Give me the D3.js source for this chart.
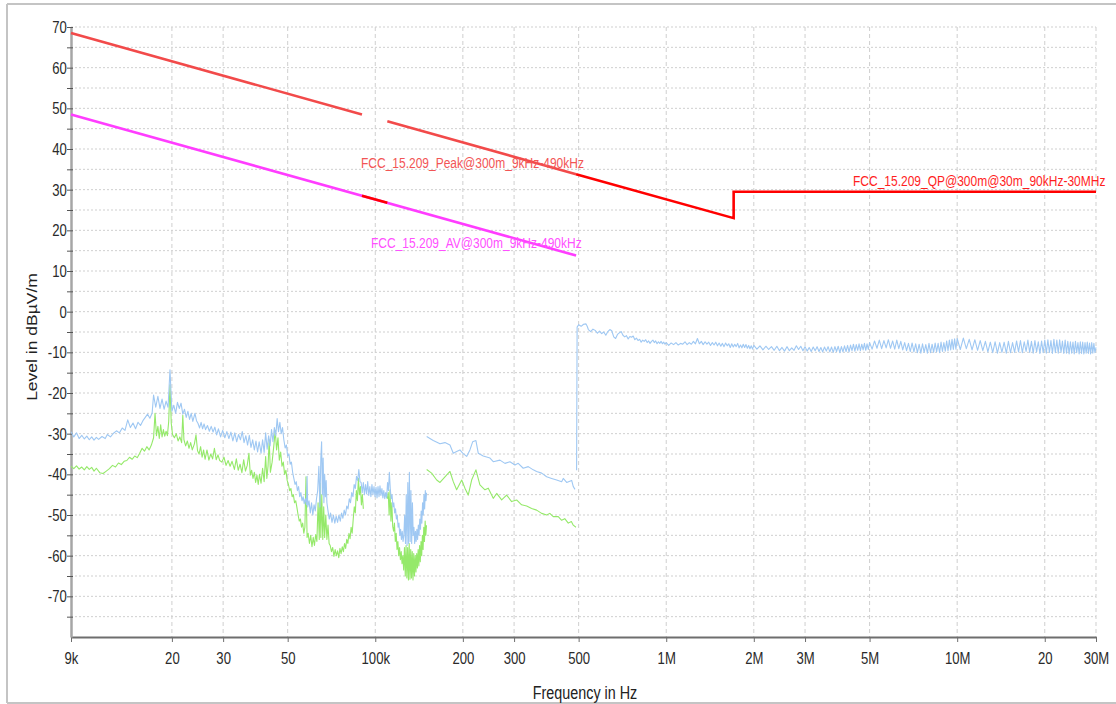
<!DOCTYPE html>
<html>
<head>
<meta charset="utf-8">
<script src="https://cdn.jsdelivr.net/npm/d3@7"></script>
<style>
  html, body { margin: 0; padding: 0; background: #fff; }
  svg { display: block; font-family: Arial, "Liberation Sans", sans-serif; }
</style>
</head>
<body>
<svg id="chart" width="1116" height="704"></svg>
<script>
// ---- Axis ticks ----
const xTickValues = [9e3, 2e4, 3e4, 5e4, 1e5, 2e5, 3e5, 5e5, 1e6, 2e6, 3e6, 5e6, 1e7, 2e7, 3e7];
const xTickLabels = ["9k", "20", "30", "50", "100k", "200", "300", "500", "1M", "2M", "3M", "5M", "10M", "20", "30M"];
const yTickValues = [-75, -70, -65, -60, -55, -50, -45, -40, -35, -30, -25, -20, -15, -10, -5, 0, 5, 10, 15, 20, 25, 30, 35, 40, 45, 50, 55, 60, 65, 70];
const yLabelledTicks = [-70, -60, -50, -40, -30, -20, -10, 0, 10, 20, 30, 40, 50, 60, 70];

// ---- FCC 15.209 limit lines (frequency in kHz, level in dBµV/m) ----
const peakLimitA = [[9, 68.5], [90, 48.5]];
const peakLimitB = [[110, 46.8], [490, 33.8]];
const avLimit = [[9, 48.5], [490, 13.8]];
const qpLimitA = [[90, 28.5], [110, 26.8]];
const qpLimitB = [[490, 33.8], [1705, 23.0], [1705, 29.5], [30000, 29.5]];

// ---- Measured traces ----
// Peak detector, 9 kHz – 150 kHz (kHz, dBµV/m)
const peakScanLF = [[9.0,-29.5],[9.2,-30.8],[9.4,-29.8],[9.6,-31.2],[9.8,-30.4],[10.0,-31.3],[10.2,-30.6],[10.4,-31.5],[10.6,-30.8],[10.8,-31.6],[11.0,-30.9],[11.2,-31.4],[11.5,-30.7],[11.8,-31.2],[12.0,-30.2],[12.3,-30.8],[12.6,-29.9],[12.9,-29.3],[13.2,-29.8],[13.5,-28.6],[13.8,-29.2],[14.1,-26.6],[14.4,-28.5],[14.7,-27.4],[15.0,-28.8],[15.3,-27.2],[15.6,-28.0],[15.9,-26.8],[16.2,-26.0],[16.5,-25.2],[16.8,-26.2],[17.1,-25.0],[17.3,-20.5],[17.6,-23.5],[17.9,-20.8],[18.2,-23.8],[18.5,-21.5],[18.8,-24.0],[19.1,-22.0],[19.4,-23.5],[19.7,-14.3],[20.0,-24.5],[20.3,-23.0],[20.6,-25.0],[20.9,-22.3],[21.2,-23.8],[21.5,-22.5],[21.8,-25.2],[22.1,-24.0],[22.4,-26.0],[22.7,-24.5],[23.0,-26.5],[23.3,-25.0],[23.6,-27.0],[24.0,-25.0],[24.3,-26.8],[24.6,-27.5],[24.9,-28.6],[25.2,-27.2],[25.5,-28.8],[25.8,-27.6],[26.1,-29.0],[26.5,-28.0],[26.9,-29.4],[27.3,-28.2],[27.7,-29.6],[28.1,-28.4],[28.5,-30.3],[28.9,-28.8],[29.4,-30.8],[29.9,-29.2],[30.4,-31.0],[30.9,-29.5],[31.4,-31.2],[31.9,-29.6],[32.4,-31.8],[32.9,-29.8],[33.4,-32.0],[33.9,-30.2],[34.4,-31.5],[34.9,-29.5],[35.4,-32.2],[35.9,-30.5],[36.4,-32.8],[36.9,-30.4],[37.4,-33.4],[37.9,-31.5],[38.4,-34.0],[38.9,-31.8],[39.4,-34.5],[39.9,-32.0],[40.5,-34.8],[41.0,-31.5],[41.5,-34.6],[42.0,-29.8],[42.5,-33.8],[43.0,-30.5],[43.5,-33.0],[44.0,-29.0],[44.5,-32.0],[45.0,-28.5],[45.5,-30.5],[46.0,-26.3],[46.5,-29.5],[47.0,-27.2],[47.5,-30.0],[48.0,-28.5],[48.5,-31.5],[49.0,-33.5],[49.5,-32.8],[50.0,-35.5],[50.5,-35.0],[51.0,-37.5],[51.5,-37.0],[52.0,-39.5],[52.5,-41.0],[53.0,-42.5],[53.5,-41.8],[54.0,-44.0],[54.5,-43.0],[55.0,-45.5],[55.5,-44.5],[56.0,-46.5],[56.5,-45.5],[57.0,-47.2],[57.5,-46.0],[58.0,-47.5],[58.3,-40.5],[58.6,-48.0],[59.2,-46.5],[59.8,-49.5],[60.4,-47.0],[61.0,-50.0],[61.6,-47.5],[62.2,-49.0],[62.8,-46.0],[63.4,-44.0],[64.0,-38.0],[64.5,-48.0],[65.0,-36.0],[65.4,-32.0],[65.8,-45.0],[66.2,-36.0],[66.6,-47.0],[67.0,-40.0],[67.4,-45.5],[67.8,-41.5],[68.2,-47.0],[68.8,-49.0],[69.5,-51.0],[70.2,-49.5],[71.0,-51.8],[71.8,-50.0],[72.6,-52.0],[73.4,-50.3],[74.2,-51.8],[75.0,-50.0],[75.8,-51.5],[76.6,-49.5],[77.4,-50.8],[78.2,-48.8],[79.0,-50.0],[79.8,-47.8],[80.6,-48.5],[81.4,-46.0],[82.2,-47.0],[83.0,-44.5],[83.8,-45.5],[84.6,-42.5],[85.4,-43.5],[86.2,-40.5],[87.0,-41.5],[87.8,-38.8],[88.6,-41.8],[89.4,-42.0],[90.2,-44.5],[91.0,-42.0],[91.8,-45.0],[92.6,-42.5],[93.4,-44.8],[94.2,-41.8],[95.0,-45.2],[95.8,-43.0],[96.6,-45.5],[97.4,-42.5],[98.2,-45.0],[99.0,-43.0],[99.8,-45.5],[100.6,-43.2],[101.4,-45.8],[102.2,-43.0],[103.0,-45.5],[103.8,-42.8],[104.6,-45.2],[105.4,-43.5],[106.2,-45.8],[107.0,-44.0],[107.8,-46.0],[108.6,-44.5],[109.4,-45.8],[110.2,-42.0],[111.0,-44.0],[111.8,-39.5],[112.6,-43.5],[113.4,-46.0],[114.2,-45.0],[115.0,-48.0],[115.8,-47.0],[116.6,-49.5],[117.4,-48.5],[118.2,-51.0],[119.0,-50.0],[119.8,-53.0],[120.6,-52.0],[121.4,-55.0],[122.2,-53.5],[123.0,-56.0],[123.8,-54.0],[124.6,-56.5],[125.4,-55.0],[126.2,-50.0],[127.0,-57.0],[127.8,-45.0],[128.6,-57.5],[129.4,-42.0],[130.2,-57.0],[131.0,-39.5],[131.8,-56.5],[132.6,-44.0],[133.4,-57.0],[134.2,-47.0],[135.0,-55.0],[135.8,-53.0],[136.6,-57.0],[137.4,-54.0],[138.2,-56.5],[139.0,-53.5],[139.8,-56.0],[140.6,-52.5],[141.4,-55.0],[142.2,-51.0],[143.0,-53.5],[143.8,-49.0],[144.6,-52.0],[145.4,-47.0],[146.2,-50.0],[147.0,-45.0],[147.8,-48.5],[148.6,-44.0],[149.4,-46.5],[150.0,-44.5]];

// Peak detector, 150 kHz – 490 kHz (kHz, dBµV/m)
const peakScanMF = [[150.2,-30.7],[158.2,-31.7],[166.9,-32.5],[173.6,-32.2],[180.6,-32.8],[185.4,-34.8],[190.4,-34.4],[195.4,-34.0],[199.7,-34.8],[206.1,-35.6],[211.5,-34.0],[216.1,-32.0],[221.8,-31.7],[225.9,-34.8],[235.0,-35.5],[247.9,-36.0],[254.4,-36.9],[268.2,-36.5],[279.1,-37.3],[290.3,-36.9],[302.0,-37.7],[310.0,-37.3],[322.5,-38.5],[335.6,-38.1],[349.1,-38.9],[358.6,-39.3],[373.1,-39.7],[388.2,-40.6],[403.8,-41.0],[420.2,-41.4],[437.1,-41.8],[442.7,-41.0],[454.8,-42.0],[473.2,-41.5],[479.2,-43.0],[485.7,-43.7]];

// Peak detector, 490 kHz – 30 MHz (MHz, dBµV/m)
const peakScanHF = [[0.492,-39.0],[0.494,-3.8],[0.50,-3.2],[0.51,-3.6],[0.52,-3.1],[0.53,-3.0],[0.535,-3.6],[0.54,-4.4],[0.55,-4.9],[0.56,-4.3],[0.57,-4.6],[0.58,-5.3],[0.59,-4.8],[0.60,-5.4],[0.61,-5.0],[0.62,-5.8],[0.63,-4.9],[0.64,-4.4],[0.65,-4.7],[0.66,-6.2],[0.67,-6.6],[0.68,-5.6],[0.69,-5.2],[0.70,-4.9],[0.71,-5.8],[0.72,-6.2],[0.73,-5.9],[0.74,-6.7],[0.75,-6.1],[0.76,-6.3],[0.77,-6.0],[0.78,-6.9],[0.79,-6.5],[0.80,-7.1],[0.81,-6.8],[0.82,-7.5],[0.83,-7.0],[0.84,-7.3],[0.85,-6.9],[0.86,-7.6],[0.87,-7.2],[0.88,-7.8],[0.89,-7.3],[0.90,-7.0],[0.91,-7.6],[0.92,-7.2],[0.93,-7.9],[0.94,-7.4],[0.95,-7.8],[0.96,-7.3],[0.97,-7.9],[0.98,-7.5],[0.99,-8.0],[1.00,-7.6],[1.02,-8.3],[1.04,-7.7],[1.06,-8.1],[1.08,-7.6],[1.10,-8.2],[1.12,-7.8],[1.14,-8.0],[1.16,-7.4],[1.18,-8.1],[1.20,-7.6],[1.22,-8.0],[1.24,-7.3],[1.26,-7.9],[1.28,-6.6],[1.30,-7.9],[1.32,-7.3],[1.34,-8.1],[1.36,-7.4],[1.38,-8.0],[1.40,-7.5],[1.42,-8.3],[1.44,-7.6],[1.46,-8.2],[1.48,-7.5],[1.50,-8.4],[1.52,-7.7],[1.54,-8.5],[1.56,-7.8],[1.58,-8.6],[1.60,-7.7],[1.62,-8.4],[1.64,-7.9],[1.66,-8.8],[1.68,-7.9],[1.70,-8.7],[1.72,-8.0],[1.74,-8.6],[1.76,-7.8],[1.78,-8.9],[1.80,-8.2],[1.82,-8.9],[1.84,-8.0],[1.86,-8.8],[1.88,-8.1],[1.90,-9.0],[1.92,-8.3],[1.94,-9.1],[1.96,-8.4],[1.98,-9.2],[2.00,-8.3],[2.05,-9.2],[2.10,-8.4],[2.15,-9.4],[2.20,-8.5],[2.25,-9.3],[2.30,-8.6],[2.35,-9.5],[2.40,-8.5],[2.45,-9.6],[2.50,-8.8],[2.55,-9.7],[2.60,-8.6],[2.65,-9.6],[2.70,-8.9],[2.75,-9.5],[2.80,-8.4],[2.85,-9.3],[2.90,-8.5],[2.95,-9.6],[3.00,-8.6],[3.05,-9.7],[3.10,-8.8],[3.15,-9.8],[3.20,-8.7],[3.25,-9.6],[3.30,-8.6],[3.35,-9.8],[3.40,-8.8],[3.45,-9.9],[3.50,-8.7],[3.55,-9.7],[3.60,-8.6],[3.65,-9.9],[3.70,-8.7],[3.75,-10.0],[3.80,-8.6],[3.85,-9.8],[3.90,-8.5],[3.95,-10.1],[4.00,-8.6],[4.05,-9.9],[4.10,-8.4],[4.15,-9.8],[4.20,-8.3],[4.25,-9.9],[4.30,-8.2],[4.35,-9.6],[4.40,-8.0],[4.45,-9.7],[4.50,-8.1],[4.55,-9.5],[4.60,-7.9],[4.65,-9.6],[4.70,-8.0],[4.75,-9.4],[4.80,-7.8],[4.85,-9.5],[4.90,-7.9],[4.95,-9.3],[5.0,-7.6],[5.1,-9.2],[5.2,-7.2],[5.3,-9.0],[5.4,-7.0],[5.5,-9.1],[5.6,-7.1],[5.7,-8.9],[5.8,-6.9],[5.9,-9.0],[6.0,-7.2],[6.1,-9.2],[6.2,-7.0],[6.3,-9.1],[6.4,-7.3],[6.5,-9.4],[6.6,-7.6],[6.7,-9.6],[6.8,-7.8],[6.9,-9.8],[7.0,-7.7],[7.1,-9.9],[7.2,-7.9],[7.3,-10.1],[7.4,-8.0],[7.5,-10.2],[7.6,-7.9],[7.7,-10.0],[7.8,-8.1],[7.9,-10.2],[8.0,-7.8],[8.1,-10.1],[8.2,-8.0],[8.3,-10.0],[8.4,-7.7],[8.5,-9.9],[8.6,-7.8],[8.7,-10.1],[8.8,-7.5],[8.9,-9.8],[9.0,-7.6],[9.1,-9.7],[9.2,-7.2],[9.3,-9.6],[9.4,-7.0],[9.5,-9.4],[9.6,-6.8],[9.7,-9.3],[9.8,-6.7],[9.9,-9.2],[10.0,-6.6],[10.25,-9.3],[10.5,-6.5],[10.75,-9.1],[11.0,-6.8],[11.25,-9.4],[11.5,-6.9],[11.75,-9.5],[12.0,-7.1],[12.25,-9.6],[12.5,-7.3],[12.75,-9.9],[13.0,-7.5],[13.25,-10.1],[13.5,-7.4],[13.75,-10.2],[14.0,-7.6],[14.25,-10.0],[14.5,-7.5],[14.75,-10.2],[15.0,-7.3],[15.25,-10.1],[15.5,-7.6],[15.75,-10.0],[16.0,-7.2],[16.25,-9.9],[16.5,-7.1],[16.75,-10.1],[17.0,-7.4],[17.25,-9.8],[17.5,-7.0],[17.75,-10.0],[18.0,-7.3],[18.25,-10.2],[18.5,-7.1],[18.75,-9.9],[19.0,-7.4],[19.25,-10.3],[19.5,-7.2],[19.75,-10.1],[20.0,-7.0],[20.25,-10.2],[20.5,-6.9],[20.75,-10.0],[21.0,-7.1],[21.25,-10.3],[21.5,-6.8],[21.75,-10.1],[22.0,-7.0],[22.25,-10.2],[22.5,-6.9],[22.75,-10.0],[23.0,-7.2],[23.25,-10.3],[23.5,-7.0],[23.75,-10.2],[24.0,-7.3],[24.25,-10.4],[24.5,-7.4],[24.75,-10.2],[25.0,-7.5],[25.25,-10.4],[25.5,-7.3],[25.75,-10.1],[26.0,-7.6],[26.25,-10.4],[26.5,-7.4],[26.75,-10.3],[27.0,-7.5],[27.25,-10.4],[27.5,-7.6],[27.75,-10.2],[28.0,-7.5],[28.25,-10.3],[28.5,-7.7],[28.75,-10.4],[29.0,-7.6],[29.25,-10.2],[29.5,-7.8],[29.75,-10.1],[30.0,-8.8]];

// Average detector, 9 kHz – 91 kHz (kHz, dBµV/m)
const avgScanLF1 = [[9.0,-38.0],[9.2,-38.6],[9.4,-37.9],[9.6,-38.7],[9.8,-38.2],[10.0,-38.9],[10.2,-38.1],[10.4,-38.8],[10.6,-38.3],[10.8,-39.2],[11.0,-38.5],[11.3,-39.6],[11.6,-39.8],[11.9,-39.2],[12.2,-38.6],[12.5,-37.8],[12.8,-38.2],[13.1,-37.2],[13.4,-37.6],[13.7,-36.8],[14.0,-36.6],[14.3,-35.8],[14.6,-36.3],[14.9,-35.5],[15.2,-35.9],[15.5,-34.8],[15.8,-33.6],[16.1,-34.3],[16.4,-33.2],[16.7,-34.0],[17.0,-32.8],[17.3,-31.0],[17.5,-25.0],[17.7,-30.5],[17.9,-28.2],[18.1,-31.2],[18.3,-27.8],[18.5,-30.8],[18.7,-29.0],[18.9,-30.6],[19.1,-29.4],[19.3,-30.5],[19.5,-27.0],[19.7,-18.0],[19.9,-27.5],[20.1,-30.2],[20.4,-31.0],[20.7,-30.0],[21.0,-31.8],[21.3,-30.8],[21.6,-32.2],[21.8,-25.5],[22.0,-31.5],[22.3,-33.0],[22.6,-31.8],[22.9,-33.6],[23.2,-32.2],[23.5,-34.0],[23.9,-32.5],[24.2,-30.3],[24.5,-34.2],[24.8,-35.0],[25.1,-33.2],[25.4,-35.8],[25.7,-34.0],[26.0,-36.3],[26.4,-34.0],[26.8,-36.5],[27.2,-35.0],[27.6,-36.2],[28.0,-33.6],[28.4,-36.4],[28.8,-35.2],[29.2,-36.6],[29.7,-37.0],[30.2,-35.8],[30.7,-37.8],[31.2,-36.6],[31.7,-38.0],[32.2,-36.8],[32.8,-38.8],[33.3,-36.2],[33.8,-39.0],[34.3,-37.5],[34.8,-39.6],[35.3,-36.4],[35.8,-39.2],[36.3,-37.8],[36.8,-34.8],[37.2,-40.2],[37.6,-39.0],[38.0,-41.0],[38.4,-39.5],[38.8,-42.0],[39.2,-40.2],[39.6,-42.5],[40.0,-40.0],[40.5,-42.2],[41.0,-38.5],[41.5,-41.8],[42.0,-35.6],[42.4,-41.0],[42.8,-38.0],[43.2,-31.5],[43.6,-39.5],[44.2,-37.0],[44.8,-33.0],[45.3,-29.2],[45.8,-34.0],[46.3,-31.0],[46.8,-36.5],[47.3,-34.5],[47.8,-38.0],[48.3,-37.0],[48.8,-40.0],[49.3,-39.0],[49.8,-41.5],[50.3,-42.5],[50.8,-44.0],[51.3,-43.5],[51.8,-45.5],[52.3,-45.0],[52.8,-47.0],[53.3,-46.5],[53.8,-48.2],[54.3,-50.0],[54.8,-51.5],[55.3,-51.0],[55.8,-53.0],[56.3,-52.0],[56.8,-54.5],[57.3,-53.0],[57.8,-40.6],[58.3,-55.5],[58.8,-54.5],[59.4,-57.0],[60.0,-55.0],[60.6,-57.8],[61.2,-55.5],[61.8,-57.5],[62.4,-54.8],[63.0,-56.5],[63.6,-47.0],[64.2,-56.0],[64.6,-42.2],[65.0,-55.5],[65.5,-45.0],[66.0,-56.0],[66.5,-48.0],[67.0,-55.5],[67.6,-50.0],[68.2,-56.0],[68.8,-52.5],[69.4,-57.0],[70.0,-57.5],[70.7,-59.0],[71.4,-58.0],[72.1,-60.2],[72.8,-58.5],[73.5,-60.0],[74.2,-58.8],[74.9,-60.5],[75.6,-58.2],[76.3,-59.5],[77.0,-57.8],[77.7,-59.0],[78.4,-57.0],[79.1,-58.2],[79.8,-56.0],[80.5,-57.0],[81.2,-54.5],[81.9,-55.8],[82.6,-53.0],[83.3,-54.5],[84.0,-51.0],[84.7,-48.0],[85.4,-49.5],[86.1,-44.0],[86.8,-46.5],[87.5,-41.0],[88.2,-45.0],[88.9,-43.0],[89.6,-47.5],[90.3,-45.0],[91.0,-48.5]];

// Average detector, 110 kHz – 150 kHz (kHz, dBµV/m)
const avgScanLF2 = [[110.0,-46.0],[110.8,-44.5],[111.6,-50.0],[112.4,-43.8],[113.2,-51.5],[114.0,-47.0],[114.8,-52.8],[115.6,-54.0],[116.4,-52.0],[117.2,-56.5],[118.0,-54.5],[118.8,-58.5],[119.6,-56.5],[120.4,-60.0],[121.2,-58.0],[122.0,-61.0],[122.8,-59.0],[123.6,-62.0],[124.4,-60.0],[125.2,-63.5],[126.0,-58.0],[126.8,-65.0],[127.6,-57.5],[128.4,-65.5],[129.2,-58.0],[130.0,-66.0],[130.8,-57.0],[131.6,-65.8],[132.4,-58.5],[133.2,-65.5],[134.0,-59.0],[134.8,-66.0],[135.6,-59.5],[136.4,-65.0],[137.2,-60.0],[138.0,-64.0],[138.8,-59.5],[139.6,-63.0],[140.4,-58.5],[141.2,-62.5],[142.0,-57.5],[142.8,-61.5],[143.6,-56.5],[144.4,-60.0],[145.2,-55.0],[146.0,-58.5],[146.8,-53.0],[147.6,-56.5],[148.4,-51.5],[149.2,-55.0],[150.0,-52.5]];

// Average detector, 150 kHz – 490 kHz (kHz, dBµV/m)
const avgScanMF = [[150.2,-38.8],[156.2,-39.7],[162.6,-41.4],[166.9,-42.0],[173.6,-40.6],[180.6,-39.3],[185.4,-41.8],[190.4,-43.8],[198.2,-41.4],[203.3,-43.4],[208.7,-45.1],[214.4,-41.4],[221.8,-38.9],[228.9,-42.6],[238.2,-43.8],[244.6,-43.4],[254.4,-45.9],[261.4,-44.7],[271.9,-46.3],[282.8,-45.1],[294.2,-46.7],[306.1,-46.3],[318.4,-47.5],[331.4,-47.8],[344.7,-48.4],[358.6,-48.8],[373.1,-49.6],[388.2,-50.0],[398.0,-49.6],[409.0,-50.4],[425.5,-50.4],[437.1,-51.3],[448.0,-50.9],[460.6,-52.0],[472.0,-51.6],[479.2,-52.5],[489.5,-53.0]];

// ---- Layout ----
const svg = d3.select("#chart");
const plotLeft = 71, plotRight = 1096, plotTop = 27, plotBottom = 637;

const x = d3.scaleLog().domain([9e3, 3e7]).range([plotLeft, plotRight]);
const y = d3.scaleLinear().domain([-80, 70]).range([plotBottom, plotTop]);

// Outer panel frame (top, left and bottom edges are visible)
const frame = svg.append("g")
  .attr("fill", "none")
  .attr("stroke", "#c4c4c4")
  .attr("stroke-width", 2);
frame.append("line").attr("x1", 7).attr("x2", 1116).attr("y1", 4).attr("y2", 4);
frame.append("line").attr("x1", 7).attr("x2", 7).attr("y1", 4).attr("y2", 703);
frame.append("line").attr("x1", 7).attr("x2", 1116).attr("y1", 703).attr("y2", 703);

// Grid
const grid = svg.append("g").attr("class", "grid");
grid.selectAll("line.h")
  .data(yTickValues)
  .join("line")
  .attr("class", "h")
  .attr("x1", plotLeft).attr("x2", plotRight)
  .attr("y1", d => y(d)).attr("y2", d => y(d))
  .attr("stroke", "#cfcfcf")
  .attr("stroke-width", 1)
  .attr("stroke-dasharray", "2,2");
grid.selectAll("line.v")
  .data(xTickValues.slice(1))
  .join("line")
  .attr("class", "v")
  .attr("x1", d => x(d)).attr("x2", d => x(d))
  .attr("y1", plotTop).attr("y2", plotBottom)
  .attr("stroke", "#cfcfcf")
  .attr("stroke-width", 1)
  .attr("stroke-dasharray", "4,3");

// Axes
const labelFont = 16;
const squeeze = 0.82;

const xAxis = svg.append("g")
  .attr("transform", `translate(0,${plotBottom})`)
  .call(d3.axisBottom(x)
    .tickValues(xTickValues)
    .tickFormat((d, i) => xTickLabels[i])
    .tickSize(5)
    .tickSizeOuter(0));
xAxis.select(".domain").attr("stroke", "#6e6e6e").attr("stroke-width", 2);
xAxis.selectAll(".tick line").attr("stroke", "#6e6e6e");
xAxis.selectAll(".tick text")
  .attr("y", 27).attr("dy", 0)
  .attr("fill", "#2a2a2a")
  .style("font-size", labelFont + "px")
  .style("font-family", "Arial, 'Liberation Sans', sans-serif")
  .attr("transform", `scale(${squeeze},1)`);

const yAxis = svg.append("g")
  .attr("transform", `translate(${plotLeft},0)`)
  .call(d3.axisLeft(y)
    .tickValues(yTickValues)
    .tickFormat(d => yLabelledTicks.includes(d) ? String(d) : "")
    .tickSize(4)
    .tickSizeOuter(0));
yAxis.select(".domain").attr("stroke", "#a6a6a6").attr("stroke-width", 2.5);
yAxis.selectAll(".tick line").attr("stroke", "#555").attr("x2", -4).attr("x1", 2);
yAxis.selectAll(".tick text")
  .attr("x", -4.2 / squeeze).attr("dy", "0.34em")
  .attr("fill", "#2a2a2a")
  .style("font-size", labelFont + "px")
  .style("font-family", "Arial, 'Liberation Sans', sans-serif")
  .attr("transform", `scale(${squeeze},1)`);

// Axis titles
svg.append("text")
  .attr("transform", `translate(585,699) scale(${squeeze},1)`)
  .attr("text-anchor", "middle")
  .attr("fill", "#222")
  .style("font-size", "17.5px")
  .text("Frequency in Hz");
svg.append("text")
  .attr("transform", `translate(37,337) scale(${squeeze},1) rotate(-90)`)
  .attr("text-anchor", "middle")
  .attr("fill", "#222")
  .style("font-size", "17.5px")
  .text("Level in dBµV/m");

// Clip for traces
svg.append("clipPath").attr("id", "plotClip")
  .append("rect")
  .attr("x", plotLeft).attr("y", plotTop - 2)
  .attr("width", plotRight - plotLeft + 2).attr("height", plotBottom - plotTop + 2);

const traces = svg.append("g").attr("clip-path", "url(#plotClip)");

const lineKHz = d3.line().x(d => x(d[0] * 1e3)).y(d => y(d[1]));
const lineMHz = d3.line().x(d => x(d[0] * 1e6)).y(d => y(d[1]));

const greenTrace = "#95e96a";
const blueTrace = "#9fc8f3";

[avgScanLF1, avgScanLF2, avgScanMF].forEach(seg => {
  traces.append("path").datum(seg)
    .attr("d", lineKHz)
    .attr("fill", "none")
    .attr("stroke", greenTrace)
    .attr("stroke-width", 1.1)
    .attr("stroke-linejoin", "round");
});
[peakScanLF, peakScanMF].forEach(seg => {
  traces.append("path").datum(seg)
    .attr("d", lineKHz)
    .attr("fill", "none")
    .attr("stroke", blueTrace)
    .attr("stroke-width", 1.1)
    .attr("stroke-linejoin", "round");
});
traces.append("path").datum(peakScanHF)
  .attr("d", lineMHz)
  .attr("fill", "none")
  .attr("stroke", blueTrace)
  .attr("stroke-width", 1.1)
  .attr("stroke-linejoin", "round");

// Limit lines
const limits = svg.append("g");
const peakColor = "#f24a4a";
const avColor = "#ff3dff";
const qpColor = "#ff0000";

[peakLimitA, peakLimitB].forEach(seg => {
  limits.append("path").datum(seg)
    .attr("d", lineKHz)
    .attr("fill", "none")
    .attr("stroke", peakColor)
    .attr("stroke-width", 2.6);
});
limits.append("path").datum(avLimit)
  .attr("d", lineKHz)
  .attr("fill", "none")
  .attr("stroke", avColor)
  .attr("stroke-width", 2.6);
[qpLimitA, qpLimitB].forEach(seg => {
  limits.append("path").datum(seg)
    .attr("d", lineKHz)
    .attr("fill", "none")
    .attr("stroke", qpColor)
    .attr("stroke-width", 2.6);
});

// Limit line names (narrowed horizontally like the axis labels)
const limitLabels = [
  { text: "FCC_15.209_Peak@300m_9kHz-490kHz", x: 361, y: 168, color: "#f25555" },
  { text: "FCC_15.209_AV@300m_9kHz-490kHz", x: 371, y: 248, color: "#ff50ff" },
  { text: "FCC_15.209_QP@300m@30m_90kHz-30MHz", x: 853, y: 186, color: "#ff1e1e" }
];
svg.append("g").selectAll("text")
  .data(limitLabels)
  .join("text")
  .attr("transform", d => `translate(${d.x},${d.y}) scale(0.8,1)`)
  .attr("fill", d => d.color)
  .style("font-size", "15px")
  .text(d => d.text);
</script>
</body>
</html>
